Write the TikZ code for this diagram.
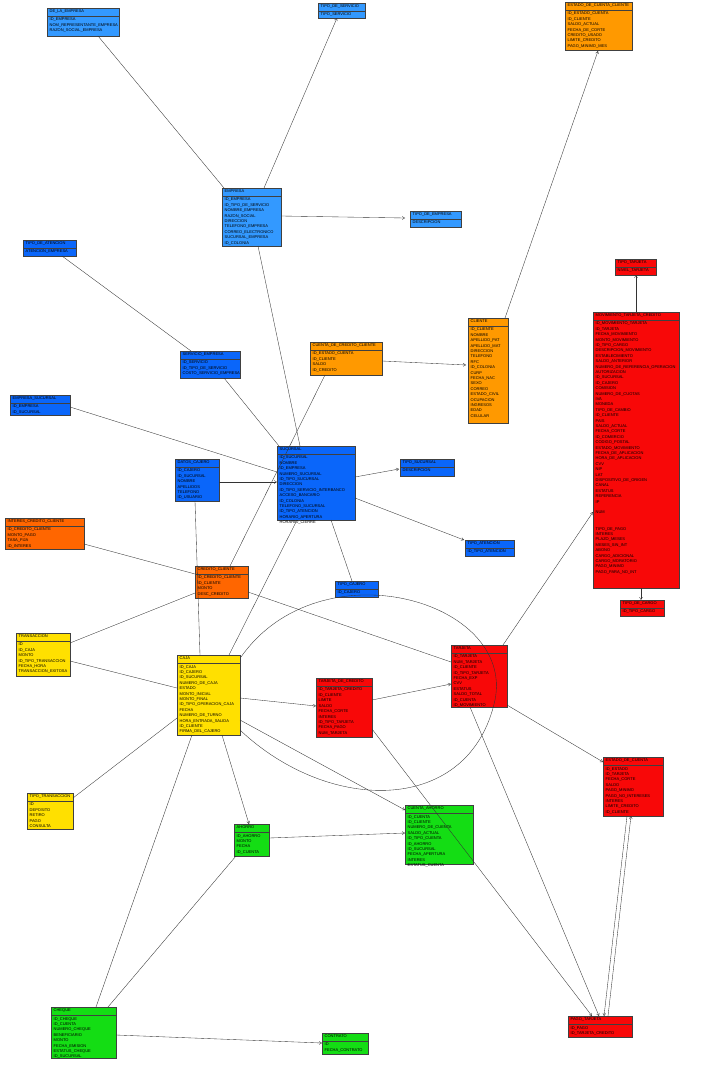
\documentclass[tikz,border=0pt]{standalone}
\usepackage{fontspec}
\setmainfont{Liberation Sans}
\usetikzlibrary{arrows.meta}

\definecolor{blueL}{HTML}{3399FF}
\definecolor{blueD}{HTML}{0A66FA}
\definecolor{orng}{HTML}{FF9900}
\definecolor{orngR}{HTML}{FF6600}
\definecolor{redC}{HTML}{F80808}
\definecolor{yell}{HTML}{FFE000}
\definecolor{grn}{HTML}{14DD14}

\tikzset{
  tbl/.style={draw=black!75, line width=0.5pt, inner sep=0pt, rectangle},
  tblhead/.style={font=\fontsize{4}{5}\selectfont, inner sep=0pt, anchor=north west},
  tblrows/.style={font=\fontsize{4}{5.4}\selectfont, inner sep=0pt, anchor=north west, align=left},
  rel/.style={draw=black!80, line width=0.35pt},
  relto/.style={rel, -{Straight Barb[length=2.5pt,width=3pt]}},
}

% entity table: name, x, y (top), width, height, fill, title, attribute rows
\newcommand\erbox[8]{%
  \node[tbl, fill=#6, minimum width=#4pt, minimum height=#5pt, anchor=north west] (#1) at (#2,#3) {};
  \node[tblhead] (#1-h) at ([shift={(2.5,1.8)}]#1.north west) {#7};
  \draw[black!75, line width=0.5pt] ([shift={(0,8)}]#1.north west) -- ([shift={(0,8)}]#1.north east);
  \node[tblrows] (#1-r) at ([shift={(2.5,10)}]#1.north west) {#8};
}
% relation: style, table A, offset in A, table B, offset in B (offsets from the top left corner)
\newcommand\link[7]{%
  \draw[#1] ([shift={(#3,#4)}]#2.north west) -- ([shift={(#6,#7)}]#5.north west);
}

\begin{document}
\begin{tikzpicture}[x=1pt,y=-1pt]
\fill[white] (0,0) rectangle (704,1067);
\useasboundingbox (0,0) rectangle (704,1067);

% ---------- tables ----------
\erbox{e01}{47}{8}{72}{28}{blueL}{DE\_LA\_EMPRESA}{ID\_EMPRESA\\NOM\_REPRESENTANTE\_EMPRESA\\RAZON\_SOCIAL\_EMPRESA}
\erbox{e02}{318}{3}{47}{15}{blueL}{TIPO\_DE\_SERVICIO}{TIPO\_SERVICIO}
\erbox{e03}{565}{2}{67}{48}{orng}{ESTADO\_DE\_CUENTA\_CLIENTE}{ID\_ESTADO\_CUENTA\\ID\_CLIENTE\\SALDO\_ACTUAL\\FECHA\_DE\_CORTE\\CREDITO\_USADO\\LIMITE\_CREDITO\\PAGO\_MINIMO\_MES}
\erbox{e04}{222}{188}{59}{58}{blueL}{EMPRESA}{ID\_EMPRESA\\ID\_TIPO\_DE\_SERVICIO\\NOMBRE\_EMPRESA\\RAZON\_SOCIAL\\DIRECCION\\TELEFONO\_EMPRESA\\CORREO\_ELECTRONICO\\SUCURSAL\_EMPRESA\\ID\_COLONIA}
\erbox{e05}{410}{211}{51}{16}{blueL}{TIPO\_DE\_EMPRESA}{DESCRIPCION}
\erbox{e06}{23}{240}{53}{16}{blueD}{TIPO\_DE\_ATENCION}{ATENCION\_EMPRESA}
\erbox{e07}{180}{351}{60}{27}{blueD}{SERVICIO\_EMPRESA}{ID\_SERVICIO\\ID\_TIPO\_DE\_SERVICIO\\COSTO\_SERVICIO\_EMPRESA}
\erbox{e08}{310}{342}{72}{33}{orng}{CUENTA\_DE\_CREDITO\_CLIENTE}{ID\_ESTADO\_CUENTA\\ID\_CLIENTE\\SALDO\\ID\_CREDITO}
\erbox{e09}{10}{395}{60}{20}{blueD}{EMPRESA\_SUCURSAL}{ID\_EMPRESA\\ID\_SUCURSAL}
\erbox{e10}{468}{318}{40}{105}{orng}{CLIENTE}{ID\_CLIENTE\\NOMBRE\\APELLIDO\_PAT\\APELLIDO\_MAT\\DIRECCION\\TELEFONO\\RFC\\ID\_COLONIA\\CURP\\FECHA\_NAC\\SEXO\\CORREO\\ESTADO\_CIVIL\\OCUPACION\\INGRESOS\\EDAD\\CELULAR}
\erbox{e11}{615}{259}{41}{16}{redC}{TIPO\_TARJETA}{NIVEL\_TARJETA}
\erbox{e12}{593}{312}{86}{276}{redC}{MOVIMIENTO\_TARJETA\_CREDITO}{ID\_MOVIMIENTO\_TARJETA\\ID\_TARJETA\\FECHA\_MOVIMIENTO\\MONTO\_MOVIMIENTO\\ID\_TIPO\_CARGO\\DESCRIPCION\_MOVIMIENTO\\ESTABLECIMIENTO\\SALDO\_ANTERIOR\\NUMERO\_DE\_REFERENCIA\_OPERACION\\AUTORIZACION\\ID\_SUCURSAL\\ID\_CAJERO\\COMISION\\NUMERO\_DE\_CUOTAS\\IVA\\MONEDA\\TIPO\_DE\_CAMBIO\\ID\_CLIENTE\\PAIS\\SALDO\_ACTUAL\\FECHA\_CORTE\\ID\_COMERCIO\\CODIGO\_POSTAL\\ESTADO\_MOVIMIENTO\\FECHA\_DE\_APLICACION\\HORA\_DE\_APLICACION\\CVV\\NIP\\LAT\\DISPOSITIVO\_DE\_ORIGEN\\CANAL\\ESTATUS\\REFERENCIA\\IP\\~\\NUM\\~\\~\\TIPO\_DE\_PAGO\\INTERES\\PLAZO\_MESES\\MESES\_SIN\_INT\\ABONO\\CARGO\_ADICIONAL\\CARGO\_MORATORIO\\PAGO\_MINIMO\\PAGO\_PARA\_NO\_INT}
\erbox{e13}{620}{600}{44}{16}{redC}{TIPO\_DE\_CARGO}{ID\_TIPO\_CARGO}
\erbox{e14}{277}{446}{78}{74}{blueD}{SUCURSAL}{ID\_SUCURSAL\\NOMBRE\\ID\_EMPRESA\\NUMERO\_SUCURSAL\\ID\_TIPO\_SUCURSAL\\DIRECCION\\ID\_TIPO\_SERVICIO\_INTERBANCO\\ACCESO\_BANCARIO\\ID\_COLONIA\\TELEFONO\_SUCURSAL\\ID\_TIPO\_ATENCION\\HORARIO\_APERTURA\\HORARIO\_CIERRE}
\erbox{e15}{175}{459}{44}{42}{blueD}{DATOS\_CAJERO}{ID\_CAJERO\\ID\_SUCURSAL\\NOMBRE\\APELLIDOS\\TELEFONO\\ID\_USUARIO}
\erbox{e16}{400}{459}{54}{17}{blueD}{TIPO\_SUCURSAL}{DESCRIPCION}
\erbox{e17}{465}{540}{49}{16}{blueD}{TIPO\_ATENCION}{ID\_TIPO\_ATENCION}
\erbox{e18}{335}{581}{43}{16}{blueD}{TIPO\_CAJERO}{ID\_CAJERO}
\erbox{e19}{5}{518}{79}{31}{orngR}{INTERES\_CREDITO\_CLIENTE}{ID\_CREDITO\_CLIENTE\\MONTO\_PAGO\\TASA\_FIJA\\ID\_INTERES}
\erbox{e20}{195}{566}{53}{32}{orngR}{CREDITO\_CLIENTE}{ID\_CREDITO\_CLIENTE\\ID\_CLIENTE\\MONTO\\DESC\_CREDITO}
\erbox{e21}{16}{633}{54}{43}{yell}{TRANSACCION}{ID\\ID\_CAJA\\MONTO\\ID\_TIPO\_TRANSACCION\\FECHA\_HORA\\TRANSACCION\_EXITOSA}
\erbox{e22}{177}{655}{63}{80}{yell}{CAJA}{ID\_CAJA\\ID\_CAJERO\\ID\_SUCURSAL\\NUMERO\_DE\_CAJA\\ESTADO\\MONTO\_INICIAL\\MONTO\_FINAL\\ID\_TIPO\_OPERACION\_CAJA\\FECHA\\NUMERO\_DE\_TURNO\\HORA\_ENTRADA\_SALIDA\\ID\_CLIENTE\\FIRMA\_DEL\_CAJERO}
\erbox{e23}{316}{678}{56}{59}{redC}{TARJETA\_DE\_CREDITO}{ID\_TARJETA\_CREDITO\\ID\_CLIENTE\\LIMITE\\SALDO\\FECHA\_CORTE\\INTERES\\ID\_TIPO\_TARJETA\\FECHA\_PAGO\\NUM\_TARJETA}
\erbox{e24}{451}{645}{56}{62}{redC}{TARJETA}{ID\_TARJETA\\NUM\_TARJETA\\ID\_CLIENTE\\ID\_TIPO\_TARJETA\\FECHA\_EXP\\CVV\\ESTATUS\\SALDO\_TOTAL\\ID\_CUENTA\\ID\_MOVIMIENTO}
\erbox{e25}{27}{793}{46}{36}{yell}{TIPO\_TRANSACCION}{ID\\DEPOSITO\\RETIRO\\PAGO\\CONSULTA}
\erbox{e26}{234}{824}{35}{32}{grn}{AHORRO}{ID\_AHORRO\\MONTO\\FECHA\\ID\_CUENTA}
\erbox{e27}{405}{805}{68}{59}{grn}{CUENTA\_AHORRO}{ID\_CUENTA\\ID\_CLIENTE\\NUMERO\_DE\_CUENTA\\SALDO\_ACTUAL\\ID\_TIPO\_CUENTA\\ID\_AHORRO\\ID\_SUCURSAL\\FECHA\_APERTURA\\INTERES\\ESTATUS\_CUENTA}
\erbox{e28}{603}{757}{60}{59}{redC}{ESTADO\_DE\_CUENTA}{ID\_ESTADO\\ID\_TARJETA\\FECHA\_CORTE\\SALDO\\PAGO\_MINIMO\\PAGO\_NO\_INTERESES\\INTERES\\LIMITE\_CREDITO\\ID\_CLIENTE}
\erbox{e29}{51}{1007}{65}{51}{grn}{CHEQUE}{ID\_CHEQUE\\ID\_CUENTA\\NUMERO\_CHEQUE\\BENEFICIARIO\\MONTO\\FECHA\_EMISION\\ESTATUS\_CHEQUE\\ID\_SUCURSAL}
\erbox{e30}{322}{1033}{46}{21}{grn}{CONTRATO}{ID\\FECHA\_CONTRATO}
\erbox{e31}{568}{1016}{64}{21}{redC}{PAGO\_TARJETA}{ID\_PAGO\\ID\_TARJETA\_CREDITO}

% ---------- relations ----------
\link{rel}{e01}{51}{28}{e04}{2}{0}
\link{relto}{e04}{42}{0}{e02}{19}{15}
\link{relto}{e04}{59}{28}{e05}{-5}{7}
\link{rel}{e14}{23}{0}{e04}{36}{58}
\link{rel}{e06}{39}{16}{e07}{11}{0}
\link{rel}{e07}{44}{27}{e14}{2}{0}
\link{rel}{e20}{35}{0}{e08}{15}{33}
\link{relto}{e08}{72}{19}{e10}{-2}{47}
\link{relto}{e10}{37}{0}{e03}{33}{49}
\link{rel}{e09}{60}{12}{e14}{0}{26}
\link{relto}{e15}{44}{23}{e14}{0}{36}
\link{rel}{e15}{20}{42}{e22}{23}{0}
\link{relto}{e14}{78}{31}{e16}{-1}{10}
\link{relto}{e14}{78}{52}{e17}{-1}{0}
\link{rel}{e14}{54}{74}{e18}{17}{0}
\link{rel}{e14}{20}{74}{e22}{52}{0}
\link{rel}{e19}{79}{26}{e20}{0}{8}
\link{rel}{e20}{0}{27}{e21}{54}{10}
\link{rel}{e20}{53}{26}{e24}{0}{17}
\link{rel}{e21}{54}{28}{e22}{0}{33}
\link{relto}{e22}{63}{43}{e23}{0}{28}
\link{relto}{e23}{56}{22}{e24}{0}{39}
\link{relto}{e23}{56}{51}{e31}{24}{0}
\link{relto}{e24}{52}{0}{e12}{0}{200}
\link{relto}{e24}{56}{60}{e28}{0}{5}
\link{relto}{e24}{19}{62}{e31}{31}{0}
\link{relto}{e28}{24}{59}{e31}{36}{0}
\link{relto}{e31}{40}{0}{e28}{28}{59}
\link{relto}{e12}{43}{0}{e11}{21}{16}
\link{relto}{e12}{48}{276}{e13}{21}{0}
\link{rel}{e25}{46}{5}{e22}{0}{63}
\link{rel}{e22}{15}{80}{e29}{45}{0}
\link{rel}{e26}{2}{32}{e29}{57}{0}
\link{relto}{e22}{45}{80}{e26}{15}{0}
\link{relto}{e22}{63}{65}{e27}{0}{5}
\link{relto}{e26}{35}{14}{e27}{0}{28}
\link{relto}{e29}{65}{28}{e30}{0}{10}

% self relation of the cash desk table, looping round the card tables
\draw[rel] ([shift={(63,75)}]e22.north west)
  .. controls (330,815) and (470,815) .. (495,700)
  .. controls (515,600) and (320,545) .. ([shift={(64,2)}]e22.north west);

\end{tikzpicture}
\end{document}
